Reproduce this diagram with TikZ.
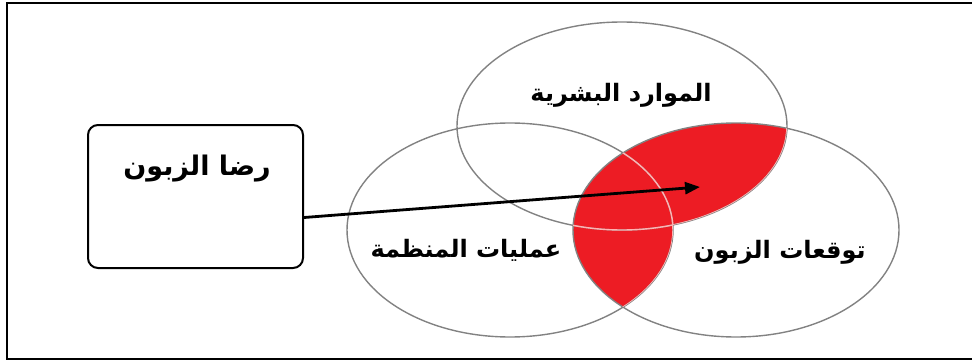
\documentclass[tikz,border=0pt]{standalone}
\usepackage{fontspec}
\newfontfamily\arabicfont[Script=Arabic]{DejaVu Sans}
\TeXXeTstate=1
\usetikzlibrary{positioning,calc,arrows.meta,shapes.geometric}
\definecolor{vennred}{RGB}{237,28,36}
\definecolor{venngray}{RGB}{130,130,130}

\begin{document}
\begin{tikzpicture}[x=1pt, y=-1pt,
  every node/.style={font=\arabicfont\bfseries\fontsize{24}{28}\selectfont},
  venn/.style={ellipse, draw=venngray, line width=1.4pt,
               minimum width=326pt, minimum height=214pt, inner sep=0pt},
  satbox/.style={rectangle, rounded corners=10pt, draw, line width=2pt,
                 minimum width=215pt, minimum height=143pt},
  arr/.style={-{Triangle[length=15pt,width=12pt]}, line width=2.8pt},
  lbl/.style={inner sep=0pt}
]
\useasboundingbox (0,0) rectangle (972,361);
\draw[line width=2pt] (972,3) -- (7,3) -- (7,359) -- (972,359);

% red part: customer expectations inside the other two
\begin{scope}
  \clip (736,230) ellipse [x radius=163, y radius=107];
  \fill[vennred] (622,126) ellipse [x radius=165, y radius=104];
  \fill[vennred] (510,230) ellipse [x radius=163, y radius=107];
\end{scope}

\node[venn, minimum width=330pt, minimum height=208pt] (hr)  at (622,126) {};
\node[venn]                                           (ops) at (510,230) {};
\node[venn]                                           (exp) at (736,230) {};

% lines seen through the red
\begin{scope}
  \clip (736,230) ellipse [x radius=163, y radius=107];
  \clip (622,126) ellipse [x radius=165, y radius=104]
        (510,230) ellipse [x radius=163, y radius=107];
  \draw[red!30!white, line width=1.4pt] (622,126) ellipse [x radius=165, y radius=104];
  \draw[red!30!white, line width=1.4pt] (510,230) ellipse [x radius=163, y radius=107];
\end{scope}

\node[lbl] (hrlbl)  at (621,95)  {\beginR الموارد البشرية\endR};
\node[lbl] (opslbl) at (466,250) {\beginR عمليات المنظمة\endR};
\node[lbl] (explbl) at (780,252) {\beginR توقعات الزبون\endR};

\node[satbox] (sat) at (195.5,196.5) {};
\node[lbl, font=\arabicfont\bfseries\fontsize{27}{31}\selectfont]
  (satlbl) at ($(sat.north)+(1.5,45)$) {\beginR رضا الزبون\endR};

\coordinate (tip) at (700,187);
\draw[arr] ([yshift=-21pt]sat.east) -- (tip);

\end{tikzpicture}
\end{document}
